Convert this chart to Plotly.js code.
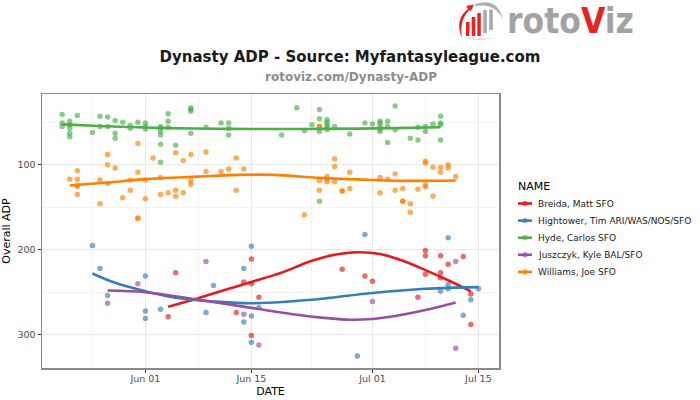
<!DOCTYPE html>
<html>
<head>
<meta charset="utf-8">
<script src="https://cdn.plot.ly/plotly-3.0.1.min.js"></script>
<style>html,body{margin:0;padding:0;background:#fff;}#chart{width:700px;height:400px;}</style>
</head>
<body>
<div id="chart"></div>
<script>
const YEAR = '2017';
const seriesNames = ['Breida, Matt SFO', 'Hightower, Tim ARI/WAS/NOS/SFO', 'Hyde, Carlos SFO', 'Juszczyk, Kyle BAL/SFO', 'Williams, Joe SFO'];
const seriesColors = ['#E41A1C', '#377EB8', '#4DAF4A', '#984EA3', '#FF7F00'];
const legendTitle = 'NAME';

// Breida, Matt SFO
const breidaDays = ['06-04','06-05','06-13','06-14','06-15','06-15','06-15','06-16','06-27','06-30','07-01','07-07','07-08','07-08','07-08','07-10','07-10','07-10','07-11','07-13','07-14','07-14'];
const breidaADP  = [279,227,274,238,211,240,301,256,223,231,237,256,201,207,229,207,227,233,217,208,252,288];
const breidaSmoothDays = ['06-04','06-08','06-12','06-15','06-19','06-23','06-26','06-29','07-02','07-05','07-08','07-11','07-14'];
const breidaSmoothADP  = [267,257,246,238,227,213,206,203,205,213,224,236,249];

// Hightower, Tim
const hightowerDays = ['05-25','05-26','05-27','06-01','06-01','06-01','06-03','06-09','06-10','06-14','06-14','06-15','06-15','06-15','06-16','06-29','06-30','07-10','07-11','07-11','07-11','07-13','07-14','07-15'];
const hightowerADP  = [195,222,254,231,272,281,270,274,242,222,285,196,278,309,268,325,182,249,186,241,246,277,259,246];
const hightowerSmoothDays = ['05-25','05-28','06-01','06-04','06-08','06-12','06-15','06-20','06-25','07-01','07-08','07-15'];
const hightowerSmoothADP  = [228,239,249,255,259.5,262,263,261,257,251,246,244];

// Hyde, Carlos
const hydeDays = ['05-21','05-21','05-21','05-22','05-22','05-22','05-22','05-22','05-23','05-25','05-26','05-26','05-27','05-27','05-28','05-28','05-28','05-29','05-30','05-30','05-31','06-01','06-01','06-01','06-03','06-03','06-03','06-03','06-03','06-03','06-04','06-04','06-04','06-05','06-07','06-07','06-07','06-07','06-09','06-11','06-12','06-12','06-12','06-19','06-21','06-22','06-23','06-24','06-24','06-24','06-24','06-24','06-25','06-25','06-25','06-25','06-25','06-26','06-28','06-30','07-01','07-02','07-02','07-02','07-02','07-02','07-03','07-03','07-03','07-04','07-04','07-06','07-07','07-07','07-08','07-08','07-09','07-10','07-10','07-10','07-10'];
const hydeADP  = [41,51,55,49,53,57,63,67,42,62,43,55,44,55,48,63,69,50,54,57,50,51,55,58,55,57,61,65,76,97,40,49,56,77,33,35,37,63,56,51,51,57,65,65,33,60,53,35,46,55,61,143,47,50,53,56,59,55,64,51,52,49,51,55,58,61,49,55,74,31,59,69,56,71,55,61,52,43,51,53,71];
const hydeSmoothDays = ['05-21','05-26','06-01','06-04','06-10','06-15','06-22','06-29','07-04','07-10'];
const hydeSmoothADP  = [52.5,54.5,56.3,57,57.7,58,58,57.5,57,56];

// Juszczyk, Kyle
const juszczykDays = ['05-27','05-31','06-09','06-14','06-16','07-01','07-12','07-12'];
const juszczykADP  = [263,240,214,276,312,261,214,316];
const juszczykSmoothDays = ['05-27','06-01','06-08','06-15','06-21','06-25','06-28','07-01','07-04','07-08','07-12'];
const juszczykSmoothADP  = [248,250,259,268.5,276.5,280.5,282.4,281.5,278,271,262];

// Williams, Joe
const williamsDays = ['05-22','05-23','05-23','05-23','05-23','05-23','05-26','05-26','05-27','05-27','05-27','05-28','05-29','05-30','05-30','05-31','05-31','05-31','05-31','06-01','06-01','06-02','06-03','06-03','06-04','06-05','06-05','06-05','06-06','06-06','06-07','06-07','06-07','06-09','06-09','06-11','06-12','06-13','06-13','06-14','06-22','06-24','06-24','06-24','06-25','06-25','06-25','06-26','06-26','06-26','06-27','06-27','06-28','06-28','07-02','07-02','07-03','07-04','07-04','07-05','07-05','07-05','07-06','07-06','07-07','07-08','07-08','07-08','07-08','07-09','07-09','07-10','07-10','07-11','07-11','07-12'];
const williamsADP  = [117,107,117,124,126,135,118,146,88,100,122,104,139,118,130,75,109,163,163,118,140,92,115,135,133,86,130,137,95,133,88,119,123,85,108,108,105,92,130,105,159,55,119,130,114,117,120,93,102,120,131,131,109,128,115,133,117,111,130,128,143,143,146,156,129,96,98,124,126,103,137,103,109,100,104,114];
const williamsSmoothDays = ['05-22','05-27','06-01','06-08','06-13','06-18','06-24','07-01','07-05','07-12'];
const williamsSmoothADP  = [124.5,121,117,114,112,112,115.5,118,119,118.5];

const xTickVals = ['06-01','06-15','07-01','07-15'];
const xTickText = ['Jun 01','Jun 15','Jul 01','Jul 15'];
const xMinorVals = ['05-25','06-08','06-23','07-08'];
const yTickVals = [100,200,300];
const yMinorVals = [50,150,250];

const toDate = d => YEAR + '-' + d;

const pointSets = [
  [breidaDays, breidaADP], [hightowerDays, hightowerADP], [hydeDays, hydeADP],
  [juszczykDays, juszczykADP], [williamsDays, williamsADP]
];
const smoothSets = [
  [breidaSmoothDays, breidaSmoothADP], [hightowerSmoothDays, hightowerSmoothADP], [hydeSmoothDays, hydeSmoothADP],
  [juszczykSmoothDays, juszczykSmoothADP], [williamsSmoothDays, williamsSmoothADP]
];

const traces = [];
pointSets.forEach((s, i) => {
  traces.push({
    type: 'scatter', mode: 'markers', x: s[0].map(toDate), y: s[1],
    marker: {color: seriesColors[i], size: 5.5, opacity: 0.65, line: {width: 0}},
    name: seriesNames[i], showlegend: false
  });
});
smoothSets.forEach((s, i) => {
  traces.push({
    type: 'scatter', mode: 'lines', x: s[0].map(toDate), y: s[1],
    line: {color: seriesColors[i], width: 2.6, shape: 'spline', smoothing: 1},
    name: seriesNames[i], showlegend: false
  });
});

// page geometry helpers (pixel -> paper) for logo and legend decoration
const L = 42, R = 201, T = 94, B = 32, W = 700 - L - R, H = 400 - T - B;
const px = x => +((x - L) / W).toFixed(5);
const py = y => +((400 - B - y) / H).toFixed(5);
const P = (x, y) => px(x) + ',' + py(y);
const rect = (x0, y0, x1, y1, c) => ({type: 'rect', xref: 'paper', yref: 'paper', x0: px(x0), x1: px(x1), y0: py(y1), y1: py(y0), fillcolor: c, line: {width: 0}, layer: 'above'});

const shapes = [
  rect(466, 22, 469.5, 36, '#E8231E'),
  rect(471.7, 17, 475.3, 36, '#E8231E'),
  rect(477.3, 13, 480.8, 36, '#E8231E'),
  rect(483.3, 10, 486.8, 33, '#a8a8a8'),
  rect(489.3, 9.5, 492.8, 30, '#a8a8a8'),
  {type: 'path', xref: 'paper', yref: 'paper', layer: 'above', fillcolor: '#E8231E', line: {width: 0},
   path: 'M' + P(462, 38) + ' Q' + P(454, 20) + ' ' + P(468, 9) + ' L' + P(466, 6) + ' L' + P(474, 4.5) + ' L' + P(471, 11) + ' L' + P(469.5, 10) + ' Q' + P(459, 20) + ' ' + P(462, 38) + ' Z'},
  {type: 'path', xref: 'paper', yref: 'paper', layer: 'above', fillcolor: '#b0b0b0', line: {width: 0},
   path: 'M' + P(475, 4) + ' Q' + P(498, -3) + ' ' + P(503, 20) + ' Q' + P(496, 3) + ' ' + P(475, 6) + ' Z'},
  {type: 'path', xref: 'paper', yref: 'paper', layer: 'above', fillcolor: '#c8c8c8', line: {width: 0},
   path: 'M' + P(462, 37) + ' Q' + P(478, 42) + ' ' + P(494, 38) + ' Q' + P(478, 40) + ' ' + P(462, 37) + ' Z'}
];

const annotations = [
  {text: '<b>rotoviz.com/Dynasty-ADP</b>', xref: 'paper', yref: 'paper', x: px(351), y: py(77),
   xanchor: 'center', yanchor: 'middle', showarrow: false, font: {size: 12, color: '#8c8c8c'}},
  {text: '<b>roto<span style="color:#E8231E">V</span>iz</b>', xref: 'paper', yref: 'paper', x: px(505), y: py(21),
   xanchor: 'left', yanchor: 'middle', showarrow: false,
   font: {family: 'Liberation Sans Narrow, DejaVu Sans Condensed, sans-serif', size: 35, color: '#a3a3a3'}},
  {text: legendTitle, xref: 'paper', yref: 'paper', x: px(516), y: py(186), xanchor: 'left', yanchor: 'middle',
   showarrow: false, font: {size: 11, color: '#000'}}
];

// custom legend (ggplot style: short line with a point)
const legendTop = 203.5, legendStep = 17.1;
seriesNames.forEach((n, i) => {
  const yc = legendTop + legendStep * i;
  shapes.push({type: 'line', xref: 'paper', yref: 'paper', x0: px(518), x1: px(532), y0: py(yc), y1: py(yc),
    line: {color: seriesColors[i], width: 2.6}, layer: 'above'});
  shapes.push({type: 'circle', xref: 'paper', yref: 'paper', x0: px(522.3), x1: px(527.7), y0: py(yc + 2.7), y1: py(yc - 2.7),
    fillcolor: seriesColors[i], opacity: 0.65, line: {width: 0}, layer: 'above'});
  annotations.push({text: n, xref: 'paper', yref: 'paper', x: px(536), y: py(yc), xanchor: 'left', yanchor: 'middle',
    showarrow: false, font: {size: 9, color: '#1a1a1a'}});
});

const layout = {
  width: 700, height: 400,
  margin: {l: L, r: R, t: T, b: B, pad: 0},
  paper_bgcolor: '#fff', plot_bgcolor: '#fff',
  font: {family: 'DejaVu Sans, sans-serif', color: '#000'},
  showlegend: false,
  title: {
    text: '<b>Dynasty ADP - Source: Myfantasyleague.com</b>',
    font: {family: 'DejaVu Sans, sans-serif', size: 15, color: '#1a1a1a'},
    x: 0.5, xref: 'container', xanchor: 'center', y: 1 - 57 / 400, yref: 'container', yanchor: 'middle'
  },
  xaxis: {
    type: 'date',
    range: [YEAR + '-05-18 08:00', YEAR + '-07-17 17:20'],
    tickmode: 'array', tickvals: xTickVals.map(toDate), ticktext: xTickText,
    tickfont: {size: 9.5, color: '#4d4d4d'}, ticklabelstandoff: -2,
    ticks: 'outside', ticklen: 3, tickcolor: '#333', tickwidth: 1,
    showgrid: true, gridcolor: '#e8e8e8', gridwidth: 1,
    minor: {tickmode: 'array', tickvals: xMinorVals.map(toDate), showgrid: true, gridcolor: '#f3f3f3', gridwidth: 1, ticks: ''},
    showline: true, linecolor: '#8a8a8a', linewidth: 1.5, mirror: true,
    zeroline: false, automargin: false,
    title: {text: 'DATE', font: {size: 11, color: '#000'}, standoff: 4}
  },
  yaxis: {
    autorange: false, range: [339.2, 16.8],
    tickmode: 'array', tickvals: yTickVals,
    tickfont: {size: 9.5, color: '#4d4d4d'},
    ticks: 'outside', ticklen: 3, tickcolor: '#333', tickwidth: 1,
    showgrid: true, gridcolor: '#e8e8e8', gridwidth: 1,
    minor: {tickmode: 'array', tickvals: yMinorVals, showgrid: true, gridcolor: '#f3f3f3', gridwidth: 1, ticks: ''},
    showline: true, linecolor: '#8a8a8a', linewidth: 1.5, mirror: true,
    zeroline: false, automargin: false,
    title: {text: 'Overall ADP', font: {size: 11, color: '#000'}, standoff: 4}
  },
  shapes: shapes,
  annotations: annotations
};

Plotly.newPlot('chart', traces, layout, {displayModeBar: false, staticPlot: true});
</script>
</body>
</html>
